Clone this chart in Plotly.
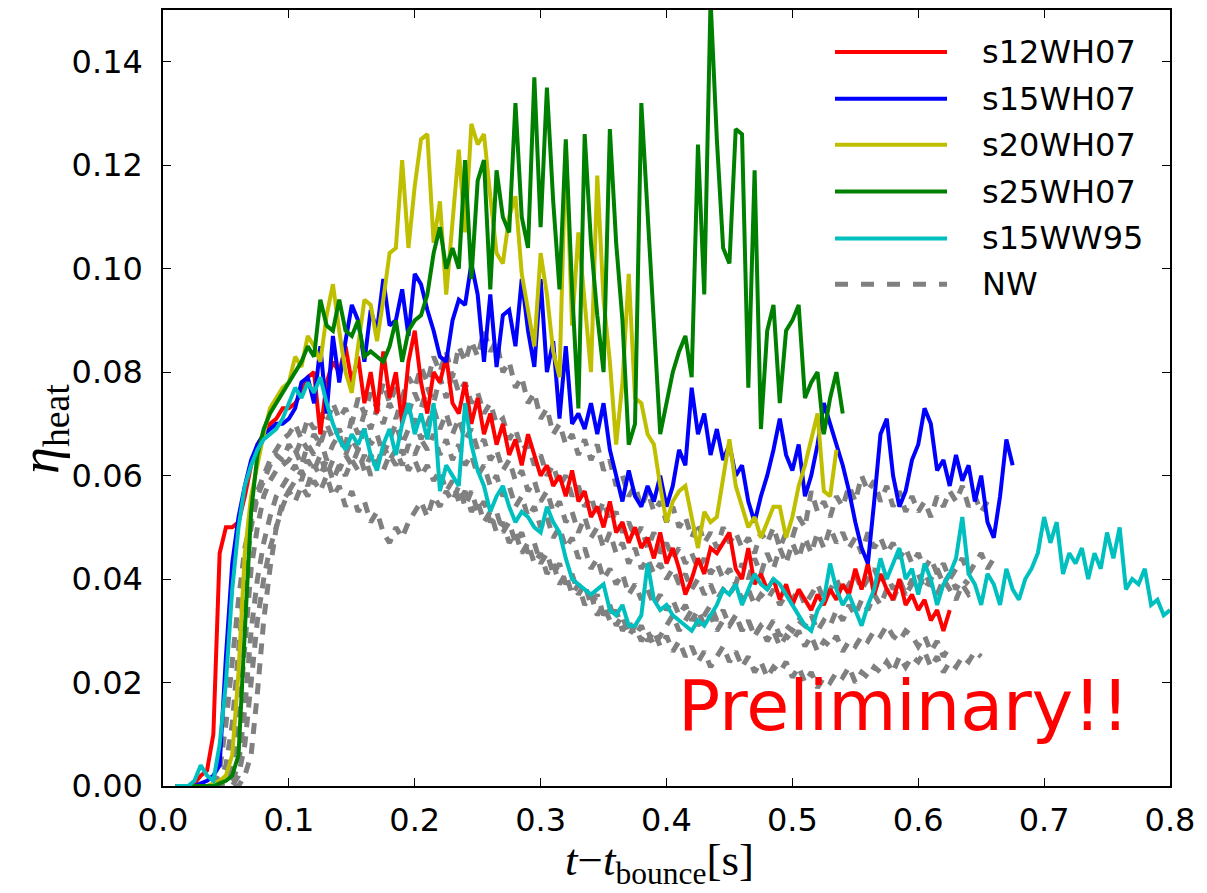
import plotly.graph_objects as go

# ---------------- data (eta_heat vs t - t_bounce) ----------------
DT = 0.005
T0 = 0.010      # start time of the WH07 / WW95 series
T0_NW = 0.040   # start time of the NW series

s12WH07 = [0, 0, 0, 0.0005, 0.002, 0.003, 0.010, 0.045, 0.050, 0.050, 0.051, 0.056, 0.062, 0.066, 0.068, 0.070, 0.071, 0.073, 0.073,
           0.074, 0.076, 0.079, 0.080, 0.068, 0.078, 0.082, 0.080, 0.085, 0.078, 0.083, 0.074, 0.080, 0.072, 0.084, 0.075, 0.080, 0.070, 0.082, 0.088,
           0.078, 0.072, 0.080, 0.078, 0.083, 0.074, 0.072, 0.078, 0.070, 0.075, 0.068, 0.072, 0.066, 0.070, 0.064, 0.067, 0.062, 0.068, 0.064, 0.060,
           0.062, 0.058, 0.060, 0.056, 0.061, 0.055, 0.057, 0.052, 0.054, 0.050, 0.055, 0.049, 0.051, 0.047, 0.050, 0.046, 0.048, 0.044, 0.049, 0.043,
           0.046, 0.042, 0.037, 0.040, 0.044, 0.041, 0.046, 0.045, 0.047, 0.049, 0.042, 0.040, 0.046, 0.039, 0.041, 0.038, 0.040, 0.036, 0.039, 0.035,
           0.038, 0.036, 0.034, 0.037, 0.035, 0.038, 0.036, 0.039, 0.037, 0.042, 0.038, 0.043, 0.037, 0.041, 0.038, 0.036, 0.040, 0.035, 0.037, 0.034,
           0.036, 0.032, 0.034, 0.030, 0.034]

s15WH07 = [0, 0, 0, 0, 0.0005, 0.001, 0.002, 0.004, 0.025, 0.043, 0.052, 0.058, 0.063, 0.066, 0.068, 0.069, 0.070, 0.070, 0.071,
           0.073, 0.078, 0.079, 0.074, 0.085, 0.072, 0.087, 0.078, 0.086, 0.093, 0.090, 0.082, 0.092, 0.088, 0.098, 0.089, 0.090, 0.096, 0.087, 0.099,
           0.097, 0.092, 0.088, 0.083, 0.082, 0.090, 0.094, 0.093, 0.101, 0.095, 0.082, 0.095, 0.081, 0.091, 0.092, 0.085, 0.098, 0.088, 0.081, 0.098,
           0.080, 0.086, 0.071, 0.085, 0.070, 0.072, 0.069, 0.074, 0.068, 0.074, 0.065, 0.060, 0.055, 0.061, 0.056, 0.054, 0.058, 0.055, 0.060, 0.054,
           0.058, 0.065, 0.062, 0.077, 0.068, 0.072, 0.064, 0.069, 0.063, 0.066, 0.060, 0.062, 0.055, 0.051, 0.056, 0.060, 0.065, 0.071, 0.064, 0.061,
           0.066, 0.056, 0.060, 0.066, 0.074, 0.070, 0.066, 0.062, 0.057, 0.051, 0.046, 0.043, 0.055, 0.068, 0.071, 0.060, 0.054, 0.057, 0.063, 0.066,
           0.073, 0.070, 0.061, 0.063, 0.058, 0.064, 0.059, 0.062, 0.055, 0.060, 0.051, 0.048, 0.056, 0.067, 0.062]

s20WH07 = [0, 0, 0, 0, 0, 0, 0.0005, 0.001, 0.002, 0.006, 0.022, 0.045, 0.056, 0.062, 0.068, 0.073, 0.075, 0.077, 0.078,
           0.083, 0.081, 0.087, 0.085, 0.082, 0.091, 0.097, 0.088, 0.080, 0.076, 0.085, 0.094, 0.093, 0.086, 0.094, 0.103, 0.104, 0.121, 0.104, 0.116,
           0.125, 0.126, 0.105, 0.113, 0.095, 0.110, 0.123, 0.107, 0.128, 0.124, 0.126, 0.114, 0.103, 0.101, 0.110, 0.114, 0.099, 0.092, 0.085, 0.103,
           0.095, 0.084, 0.079, 0.124, 0.089, 0.107, 0.094, 0.080, 0.118, 0.094, 0.082, 0.066, 0.078, 0.099, 0.075, 0.074, 0.068, 0.066, 0.058, 0.051,
           0.055, 0.057, 0.058, 0.052, 0.046, 0.053, 0.051, 0.052, 0.060, 0.067, 0.058, 0.054, 0.050, 0.052, 0.048, 0.051, 0.054, 0.054, 0.048, 0.052,
           0.058, 0.062, 0.067, 0.072, 0.057, 0.056, 0.065]

s25WH07 = [0, 0, 0, 0, 0, 0, 0, 0.0005, 0.001, 0.002, 0.006, 0.030, 0.053, 0.064, 0.069, 0.072, 0.074, 0.076, 0.078,
           0.080, 0.082, 0.085, 0.083, 0.094, 0.089, 0.088, 0.094, 0.088, 0.087, 0.090, 0.083, 0.084, 0.083, 0.082, 0.085, 0.090, 0.082, 0.088, 0.090,
           0.091, 0.095, 0.103, 0.108, 0.100, 0.104, 0.100, 0.121, 0.098, 0.117, 0.121, 0.096, 0.119, 0.110, 0.107, 0.132, 0.110, 0.104, 0.137, 0.108,
           0.135, 0.113, 0.096, 0.125, 0.096, 0.073, 0.126, 0.105, 0.091, 0.080, 0.127, 0.105, 0.090, 0.066, 0.070, 0.132, 0.110, 0.090, 0.068, 0.074,
           0.080, 0.084, 0.087, 0.079, 0.124, 0.095, 0.152, 0.125, 0.104, 0.101, 0.127, 0.126, 0.077, 0.119, 0.069, 0.088, 0.093, 0.074, 0.088, 0.090,
           0.093, 0.075, 0.078, 0.080, 0.068, 0.075, 0.080, 0.072]

s15WW95 = [0, 0, 0, 0.001, 0.004, 0.002, 0.001, 0.008, 0.020, 0.038, 0.050, 0.058, 0.062, 0.065, 0.067, 0.068, 0.069, 0.071, 0.074,
           0.077, 0.075, 0.078, 0.076, 0.079, 0.074, 0.070, 0.067, 0.065, 0.068, 0.066, 0.069, 0.064, 0.061, 0.066, 0.069, 0.064, 0.070, 0.074, 0.068,
           0.072, 0.067, 0.074, 0.057, 0.062, 0.060, 0.058, 0.074, 0.066, 0.061, 0.058, 0.053, 0.056, 0.058, 0.054, 0.051, 0.053, 0.052, 0.050, 0.049,
           0.054, 0.051, 0.049, 0.044, 0.040, 0.039, 0.038, 0.037, 0.038, 0.039, 0.034, 0.033, 0.035, 0.031, 0.031, 0.033, 0.043, 0.036, 0.034, 0.035,
           0.033, 0.032, 0.031, 0.030, 0.032, 0.031, 0.033, 0.035, 0.038, 0.037, 0.039, 0.035, 0.038, 0.041, 0.039, 0.038, 0.040, 0.039, 0.037, 0.035,
           0.033, 0.031, 0.030, 0.034, 0.036, 0.043, 0.038, 0.035, 0.037, 0.034, 0.031, 0.035, 0.038, 0.044, 0.040, 0.043, 0.046, 0.040, 0.042, 0.037,
           0.043, 0.040, 0.035, 0.039, 0.041, 0.044, 0.052, 0.041, 0.039, 0.035, 0.041, 0.039, 0.035, 0.042, 0.038, 0.036, 0.040, 0.042, 0.045, 0.052,
           0.047, 0.051, 0.041, 0.045, 0.043, 0.046, 0.040, 0.045, 0.042, 0.049, 0.044, 0.050, 0.038, 0.040, 0.039, 0.042, 0.035, 0.036, 0.033, 0.034]

NW_A = [0, 0.003, 0.012, 0.025, 0.036, 0.046, 0.052, 0.057, 0.060, 0.063, 0.065, 0.067,
        0.068, 0.070, 0.067, 0.071, 0.069, 0.072, 0.070, 0.074, 0.071, 0.073, 0.070, 0.075, 0.072, 0.076, 0.073, 0.078, 0.074, 0.077, 0.075, 0.079,
        0.077, 0.081, 0.078, 0.083, 0.080, 0.084, 0.079, 0.085, 0.082, 0.086, 0.083, 0.088, 0.084, 0.086, 0.080, 0.082, 0.077, 0.079, 0.074, 0.076,
        0.071, 0.073, 0.068, 0.070, 0.066, 0.068, 0.064, 0.067, 0.063, 0.066, 0.061, 0.063, 0.058, 0.060, 0.056, 0.058, 0.054, 0.057, 0.053, 0.055,
        0.051, 0.054, 0.050, 0.052, 0.048, 0.051, 0.047, 0.049, 0.046, 0.050, 0.047, 0.049, 0.046, 0.048, 0.045, 0.049, 0.047, 0.050, 0.046, 0.049,
        0.048, 0.052, 0.050, 0.057, 0.053, 0.055, 0.052, 0.056, 0.054, 0.058, 0.055, 0.060, 0.057, 0.059, 0.055, 0.058, 0.054, 0.057, 0.053, 0.056,
        0.053, 0.055, 0.052, 0.056, 0.054, 0.057, 0.055, 0.058, 0.054, 0.056, 0.053, 0.055]

NW_B = [0, 0.001, 0.004, 0.012, 0.026, 0.040, 0.050, 0.056, 0.059, 0.062, 0.064, 0.063,
        0.066, 0.064, 0.067, 0.065, 0.068, 0.066, 0.070, 0.067, 0.069, 0.066, 0.071, 0.068, 0.072, 0.069, 0.073, 0.070, 0.074, 0.071, 0.075, 0.072,
        0.076, 0.073, 0.077, 0.074, 0.079, 0.075, 0.080, 0.076, 0.078, 0.074, 0.076, 0.072, 0.074, 0.070, 0.071, 0.067, 0.069, 0.065, 0.066, 0.062,
        0.064, 0.060, 0.062, 0.058, 0.060, 0.056, 0.058, 0.054, 0.056, 0.052, 0.055, 0.051, 0.053, 0.049, 0.051, 0.048, 0.050, 0.046, 0.049, 0.045,
        0.047, 0.044, 0.046, 0.043, 0.045, 0.042, 0.044, 0.041, 0.043, 0.040, 0.042, 0.039, 0.043, 0.040, 0.044, 0.041, 0.045, 0.042, 0.046, 0.043,
        0.047, 0.044, 0.048, 0.045, 0.049, 0.046, 0.050, 0.047, 0.049, 0.046, 0.048, 0.045, 0.049, 0.046, 0.048, 0.045, 0.047, 0.044, 0.046, 0.043,
        0.045, 0.042, 0.044, 0.041, 0.043, 0.040, 0.042, 0.044, 0.041, 0.043, 0.045, 0.042, 0.044]

NW_C = [0, 0, 0.001, 0.003, 0.012, 0.028, 0.042, 0.050, 0.056, 0.059, 0.061, 0.062,
        0.063, 0.065, 0.062, 0.066, 0.064, 0.067, 0.063, 0.066, 0.068, 0.064, 0.067, 0.065, 0.069, 0.066, 0.068, 0.064, 0.067, 0.070, 0.066, 0.069,
        0.071, 0.067, 0.070, 0.073, 0.069, 0.072, 0.068, 0.071, 0.067, 0.069, 0.065, 0.067, 0.063, 0.065, 0.061, 0.063, 0.059, 0.061, 0.057, 0.059,
        0.055, 0.057, 0.053, 0.055, 0.051, 0.053, 0.049, 0.052, 0.048, 0.050, 0.046, 0.049, 0.045, 0.047, 0.043, 0.046, 0.042, 0.044, 0.041, 0.043,
        0.040, 0.042, 0.039, 0.041, 0.038, 0.040, 0.037, 0.039, 0.036, 0.038, 0.037, 0.039, 0.036, 0.038, 0.035, 0.037, 0.036, 0.038, 0.035, 0.037,
        0.036, 0.038, 0.035, 0.037, 0.039, 0.036, 0.038, 0.040, 0.037, 0.039, 0.041, 0.038, 0.040, 0.042, 0.039, 0.041, 0.038, 0.040, 0.037, 0.039,
        0.041, 0.038, 0.040, 0.042, 0.039, 0.041, 0.038, 0.040, 0.039]

NW_D = [0, 0, 0, 0.001, 0.004, 0.015, 0.030, 0.040, 0.047, 0.052, 0.056, 0.058,
        0.060, 0.062, 0.059, 0.063, 0.061, 0.064, 0.060, 0.063, 0.061, 0.064, 0.062, 0.065, 0.061, 0.064, 0.062, 0.066, 0.063, 0.065, 0.062, 0.066,
        0.064, 0.067, 0.065, 0.068, 0.064, 0.067, 0.063, 0.066, 0.062, 0.064, 0.060, 0.062, 0.058, 0.060, 0.056, 0.058, 0.054, 0.056, 0.052, 0.054,
        0.050, 0.052, 0.048, 0.050, 0.046, 0.048, 0.044, 0.046, 0.042, 0.044, 0.040, 0.042, 0.039, 0.041, 0.037, 0.039, 0.036, 0.038, 0.035, 0.037,
        0.034, 0.036, 0.033, 0.035, 0.032, 0.034, 0.031, 0.033, 0.030, 0.032, 0.031, 0.033, 0.030, 0.032, 0.029, 0.031, 0.030, 0.032, 0.029, 0.031,
        0.030, 0.032, 0.031, 0.033, 0.030, 0.032, 0.031, 0.034, 0.032, 0.035, 0.033, 0.036, 0.034, 0.037, 0.035, 0.038, 0.036, 0.039, 0.037, 0.040,
        0.038, 0.041, 0.039, 0.037, 0.040, 0.038, 0.036, 0.039, 0.037, 0.038]

NW_E = [0, 0, 0, 0, 0.002, 0.008, 0.020, 0.032, 0.040, 0.046, 0.050, 0.054,
        0.057, 0.059, 0.061, 0.058, 0.062, 0.060, 0.063, 0.059, 0.062, 0.060, 0.063, 0.061, 0.064, 0.060, 0.063, 0.061, 0.064, 0.062, 0.065, 0.061,
        0.063, 0.060, 0.062, 0.059, 0.061, 0.057, 0.059, 0.055, 0.057, 0.053, 0.055, 0.051, 0.053, 0.049, 0.051, 0.047, 0.049, 0.045, 0.047, 0.043,
        0.045, 0.041, 0.043, 0.039, 0.041, 0.037, 0.039, 0.035, 0.037, 0.033, 0.035, 0.032, 0.034, 0.030, 0.032, 0.029, 0.031, 0.028, 0.030, 0.027,
        0.029, 0.026, 0.028, 0.025, 0.027, 0.024, 0.026, 0.023, 0.025, 0.027, 0.024, 0.026, 0.023, 0.025, 0.022, 0.024, 0.021, 0.023, 0.022, 0.024,
        0.021, 0.023, 0.020, 0.022, 0.019, 0.021, 0.020, 0.022, 0.021, 0.023, 0.020, 0.022, 0.021, 0.023, 0.022, 0.024, 0.022, 0.025, 0.023, 0.025,
        0.024, 0.026, 0.023, 0.025, 0.022, 0.024, 0.023, 0.025, 0.024, 0.026, 0.025]

NW_F = [0, 0, 0, 0, 0, 0.002, 0.006, 0.018, 0.032, 0.042, 0.050, 0.055,
        0.057, 0.055, 0.058, 0.056, 0.059, 0.057, 0.060, 0.056, 0.058, 0.054, 0.057, 0.053, 0.055, 0.051, 0.053, 0.049, 0.047, 0.050, 0.048, 0.051,
        0.053, 0.055, 0.052, 0.056, 0.054, 0.057, 0.055, 0.058, 0.054, 0.057, 0.053, 0.055, 0.051, 0.053, 0.049, 0.051, 0.047, 0.049, 0.045, 0.047,
        0.043, 0.045, 0.041, 0.043, 0.039, 0.041, 0.037, 0.039, 0.035, 0.037, 0.033, 0.035, 0.031, 0.033, 0.029, 0.031, 0.028, 0.030, 0.027, 0.029,
        0.031, 0.033, 0.030, 0.032, 0.034, 0.031, 0.033, 0.035, 0.032, 0.034, 0.031, 0.033, 0.030, 0.032, 0.029, 0.031, 0.028, 0.030, 0.027, 0.029,
        0.028, 0.030, 0.027, 0.029, 0.026, 0.028, 0.027, 0.029, 0.026, 0.028, 0.027, 0.029, 0.028, 0.030, 0.029, 0.031, 0.029, 0.028, 0.030, 0.029,
        0.027, 0.029, 0.026, 0.028, 0.025, 0.027]

series_names = ["s12WH07", "s15WH07", "s20WH07", "s25WH07", "s15WW95"]
series_vals = [s12WH07, s15WH07, s20WH07, s25WH07, s15WW95]
series_colors = ["#ff0000", "#0000ff", "#bfbf00", "#008000", "#00bfbf"]
nw_vals = [NW_A, NW_B, NW_C, NW_D, NW_E, NW_F]
NW_COLOR = "#808080"

x_ticks = [0.0, 0.1, 0.2, 0.3, 0.4, 0.5, 0.6, 0.7, 0.8]
y_ticks = [0.00, 0.02, 0.04, 0.06, 0.08, 0.10, 0.12, 0.14]


def times(start, vals):
    return [round(start + DT * i, 4) for i in range(len(vals))]


# ---------------- figure ----------------
W, H = 1207, 893
ML, MR, MT, MB = 163, 37, 8, 107
PW, PH = W - ML - MR, H - MT - MB


def px(xp):
    return (xp - ML) / PW


def py(yp):
    return (H - MB - yp) / PH


fig = go.Figure()

for v in nw_vals:
    fig.add_trace(go.Scatter(x=times(T0_NW, v), y=v, mode="lines",
                             line=dict(color=NW_COLOR, width=5, dash="11px,9px"),
                             showlegend=False, hoverinfo="skip"))

for name, v, c in zip(series_names, series_vals, series_colors):
    fig.add_trace(go.Scatter(x=times(T0, v), y=v, mode="lines", name=name,
                             line=dict(color=c, width=4), showlegend=False))

FONT = "DejaVu Sans, Bitstream Vera Sans, sans-serif"
axis_common = dict(showline=True, linecolor="black", linewidth=1.5, mirror="allticks",
                   ticks="inside", ticklen=8, tickwidth=1.2, tickcolor="black",
                   showgrid=False, zeroline=False,
                   tickfont=dict(family=FONT, size=32, color="black"))

fig.update_layout(
    width=W, height=H,
    margin=dict(l=ML, r=MR, t=MT, b=MB, pad=0),
    paper_bgcolor="white", plot_bgcolor="white",
    xaxis=dict(range=[0, 0.8], tickvals=x_ticks, ticktext=[f"{t:.1f}" for t in x_ticks],
               ticklabelstandoff=5, **axis_common),
    yaxis=dict(range=[0, 0.15], tickvals=y_ticks, ticktext=[f"{t:.2f}" for t in y_ticks],
               ticklabelstandoff=12, **axis_common),
    showlegend=False,
)

annotations = []
shapes = []
# manual legend
leg_y = [50, 97, 143, 190, 237, 283]
legend_labels = series_names + ["NW"]
legend_colors = series_colors + [NW_COLOR]
for i, (lab, col, yy) in enumerate(zip(legend_labels, legend_colors, leg_y)):
    dash = "13px,13px" if lab == "NW" else "solid"
    shapes.append(dict(type="line", xref="paper", yref="paper",
                       x0=px(835), x1=px(947), y0=py(yy), y1=py(yy),
                       line=dict(color=col, width=5 if lab == "NW" else 4, dash=dash)))
    annotations.append(dict(xref="paper", yref="paper", x=px(980), y=py(yy), text=lab,
                            showarrow=False, xanchor="left", yanchor="middle",
                            font=dict(family=FONT, size=32, color="black")))

# axis titles
SERIF = "Liberation Serif, DejaVu Serif, serif"
annotations.append(dict(xref="paper", yref="paper", x=px(659), y=py(863),
                        text="<i>t</i>\u2212<i>t</i><sub>bounce</sub>[s]", showarrow=False,
                        xanchor="center", yanchor="middle",
                        font=dict(family=SERIF, size=45, color="black")))
annotations.append(dict(xref="paper", yref="paper", x=px(44), y=py(428),
                        text="<i>\u03b7</i><sub>heat</sub>", showarrow=False, textangle=-90,
                        xanchor="center", yanchor="middle",
                        font=dict(family=SERIF, size=54, color="black")))

# preliminary stamp
annotations.append(dict(xref="paper", yref="paper", x=px(903), y=py(706),
                        text="Preliminary!!", showarrow=False,
                        xanchor="center", yanchor="middle",
                        font=dict(family=FONT, size=70, color="#ff0000")))

fig.update_layout(annotations=annotations, shapes=shapes)

fig.write_html("out.html")
